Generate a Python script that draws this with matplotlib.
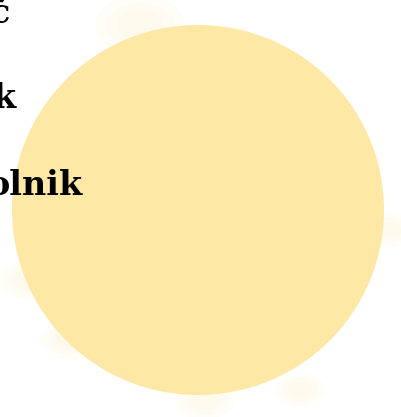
import matplotlib.pyplot as plt
from matplotlib.patches import Ellipse

# visible (cut off) labels on the left edge
labels = ["č", "k", "olnik"]
label_right = [10, 16, 83]     # right edge of each word, px
label_base = [23, 108, 195]    # baseline, px

# watercolour blob
blob_center = (198, 210)
blob_w, blob_h = 372, 370
blob_color = "#FDE8A6"

# faint halo spots around the edge
halo_x = [140, 28, 390, 205, 70, 300]
halo_y = [25, 280, 230, 400, 340, 390]
halo_r = [45, 30, 25, 30, 30, 25]

fig = plt.figure(figsize=(4.02, 4.17), dpi=100)
ax = fig.add_axes([0, 0, 1, 1])
ax.set_xlim(0, 402)
ax.set_ylim(417, 0)
ax.axis("off")

# soft watercolour bleed: stacked, very transparent spots
for x, y, r in zip(halo_x, halo_y, halo_r):
    for k in (1.0, 0.75, 0.5):
        ax.add_patch(Ellipse((x, y), 2 * r * k, 1.3 * r * k, color=blob_color,
                             alpha=0.07, lw=0))

ax.add_patch(Ellipse(blob_center, blob_w, blob_h, color=blob_color, lw=0))

for t, x, y in zip(labels, label_right, label_base):
    ax.text(x, y, t, ha="right", va="baseline", fontsize=24,
            fontweight="bold", family="DejaVu Serif", color="black", zorder=5)

fig.savefig("out.png", dpi=100)
